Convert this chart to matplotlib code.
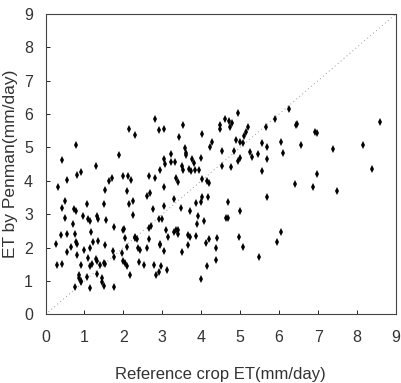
import matplotlib
matplotlib.use('Agg')
import matplotlib.pyplot as plt
import numpy as np

plt.rcParams['font.family'] = ['Liberation Sans', 'DejaVu Sans']

# Reference crop ET (x) vs ET by Penman (y), mm/day
ref_et = [
    2.82, 2.15, 2.29, 2.91, 0.78, 0.42, 1.89, 1.29, 0.91, 0.81, 0.55, 0.31,
    1.53, 1.62, 1.72, 1.99, 2.13, 2.19, 2.09, 2.65, 2.80, 2.95, 2.69,
    3.05, 3.54, 3.42, 4.03, 4.60, 4.71, 4.80, 4.74, 4.95, 4.48, 4.48,
    5.20, 5.14, 5.10, 5.66, 5.90, 4.88, 4.99, 5.07, 5.55, 5.70, 4.28, 4.22,
    4.54, 4.84, 5.25, 5.30, 5.46, 5.70, 4.99, 4.94, 3.04, 3.08, 3.23, 3.23,
    3.32, 3.57, 3.62, 3.62, 3.77, 3.81, 3.98, 3.51, 3.53, 3.68, 3.74, 3.84,
    3.94, 4.54, 4.76, 5.55, 3.36, 3.41, 4.03, 4.15, 4.20, 3.05,
    6.26, 6.43, 6.47, 6.93, 6.97, 6.05, 6.10, 6.57, 7.38, 8.15, 8.58, 8.39,
    6.96, 6.40, 6.86, 7.48, 6.04, 5.94,
    3.31, 4.03, 4.18, 3.87, 3.98, 4.69, 5.68, 3.05, 3.47, 3.72, 4.99, 3.92,
    4.07, 4.63, 4.69, 2.99, 3.90, 3.09, 3.14, 3.29, 3.34, 3.40, 3.40, 3.65,
    3.71, 3.87, 4.21, 4.11, 4.41, 4.97, 5.07, 3.67, 4.37, 2.95, 3.04, 3.50,
    5.48, 4.37, 4.15, 2.97, 3.12, 4.00,
    0.50, 0.42, 0.73, 0.78, 1.07, 1.49, 2.15, 2.25, 2.61, 2.75, 2.24, 0.50,
    0.96, 1.09, 1.13, 1.32, 1.36, 0.70, 1.56, 2.91, 1.77, 1.99, 2.02, 2.65,
    2.72, 1.16, 0.40, 0.55, 0.76, 2.31, 2.35, 2.29, 2.05, 2.65, 2.93, 0.27,
    0.78, 0.80, 1.22, 1.36, 0.66, 1.15, 1.53, 1.00, 0.55, 0.82, 2.09, 2.38,
    2.42, 2.61, 1.73, 1.96, 1.75, 1.10, 1.30, 1.33, 1.49, 1.52, 1.99, 2.03,
    2.41, 2.52, 2.78, 2.91, 2.84, 0.29, 0.43, 0.90, 1.15, 1.19, 1.40, 2.09,
    1.32, 2.18, 0.85, 0.87, 0.90, 0.91, 1.06, 1.45, 1.46, 1.50, 1.77, 1.15,
    0.76,
]
penman_et = [
    5.84, 5.54, 5.38, 5.52, 5.07, 4.63, 4.77, 4.43, 4.27, 4.17, 4.01, 3.82,
    3.74, 3.98, 4.08, 4.14, 4.13, 4.03, 3.70, 4.14, 4.08, 4.32, 3.64,
    5.56, 5.68, 5.32, 5.41, 5.86, 5.79, 5.72, 5.62, 6.04, 5.67, 5.54,
    5.60, 5.47, 5.34, 5.60, 5.84, 5.22, 5.15, 5.12, 5.12, 5.02, 5.17, 5.02,
    4.89, 4.90, 4.85, 4.70, 4.80, 4.64, 4.67, 4.60, 4.64, 4.50, 4.79, 4.57,
    4.57, 4.97, 4.84, 4.77, 4.65, 4.52, 4.67, 4.44, 4.32, 4.34, 4.30, 4.32,
    4.32, 4.44, 4.42, 4.30, 4.07, 3.95, 4.04, 4.00, 3.94, 3.80,
    6.15, 5.67, 5.69, 5.47, 5.42, 5.17, 4.84, 5.07, 4.94, 5.06, 5.77, 4.35,
    4.20, 3.89, 3.80, 3.69, 2.46, 2.17,
    3.47, 3.52, 3.52, 3.35, 3.37, 3.37, 3.52, 3.24, 3.20, 3.11, 3.10, 2.94,
    2.79, 2.90, 2.90, 2.85, 2.70, 2.52, 2.31, 2.46, 2.52, 2.54, 2.40, 2.37,
    2.31, 2.35, 2.25, 2.13, 2.28, 2.32, 2.02, 2.07, 1.98, 2.07, 1.90, 1.87,
    1.72, 1.63, 1.46, 1.46, 1.32, 1.07,
    3.39, 3.20, 3.15, 3.10, 3.32, 3.32, 3.32, 3.40, 3.55, 3.15, 2.97, 2.89,
    2.94, 2.85, 2.79, 2.94, 2.87, 2.70, 2.82, 2.85, 2.62, 2.54, 2.57, 2.60,
    2.65, 2.47, 2.37, 2.40, 2.42, 2.32, 2.25, 2.28, 2.28, 2.25, 2.10, 2.10,
    2.16, 2.10, 2.17, 2.19, 2.02, 1.99, 2.07, 1.93, 1.87, 1.78, 2.01, 1.99,
    1.93, 1.98, 1.90, 1.83, 1.72, 1.68, 1.65, 1.60, 1.53, 1.50, 1.60, 1.53,
    1.57, 1.48, 1.48, 1.28, 1.18, 1.48, 1.51, 1.48, 1.45, 1.51, 1.48, 1.45,
    1.20, 1.18, 1.18, 1.10, 1.00, 0.96, 1.13, 1.08, 0.96, 0.86, 0.82, 0.78,
    0.83,
]
ticks = list(range(10))

fig = plt.figure(figsize=(4.01, 3.83), dpi=100)
ax = fig.add_axes([0.1135, 0.179, 0.874, 0.785])

# 1:1 line
ax.plot([0, 9], [0, 9], linestyle=(0, (1, 3)), color='#999999', linewidth=0.7)
ax.plot(ref_et, penman_et, linestyle='none', marker='d', markersize=4.2,
        color='black', markeredgewidth=0)

ax.set_xlim(0, 9)
ax.set_ylim(0, 9)
ax.set_xticks(ticks)
ax.set_yticks(ticks)
ax.tick_params(direction='in', length=3, width=0.6, labelsize=11.5,
               labelcolor='#333333', pad=9)
ax.tick_params(axis='x', pad=11)
for s in ax.spines.values():
    s.set_linewidth(0.8)
    s.set_color('#444444')

ax.set_xlabel('Reference crop ET(mm/day)', fontsize=12, color='#333333',
              labelpad=16)
ax.set_ylabel('ET by Penman(mm/day)', fontsize=12.5, color='#333333',
              labelpad=4)

plt.savefig('out.png', dpi=100)
